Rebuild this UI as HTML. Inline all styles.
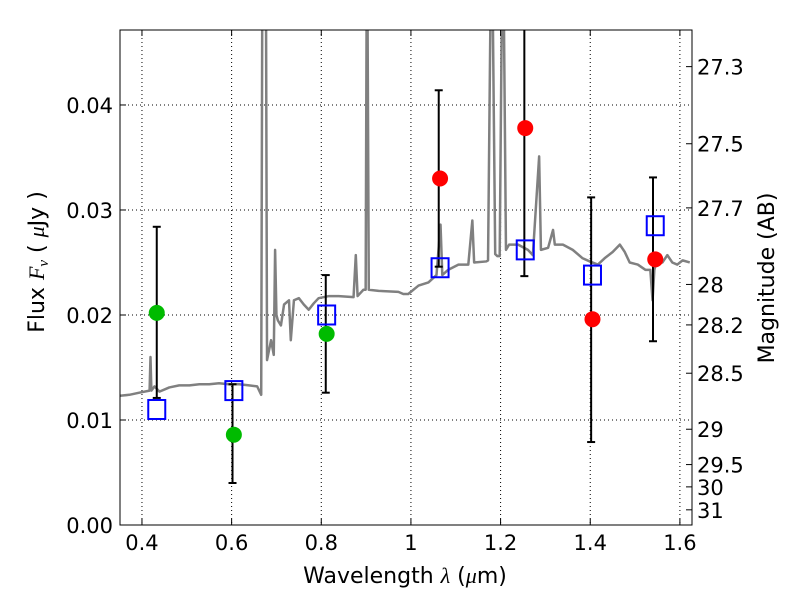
<!DOCTYPE html>
<html><head><meta charset="utf-8">
<style>
html,body{margin:0;padding:0;background:#fff;}
svg{display:block;font-family:"DejaVu Sans","Liberation Sans",sans-serif;}
</style></head>
<body>
<svg id="chart" width="800" height="600" viewBox="0 0 800 600" xmlns="http://www.w3.org/2000/svg">
<defs><clipPath id="plotclip"><rect x="120" y="30" width="572" height="495"/></clipPath></defs>
<rect x="0" y="0" width="800" height="600" fill="#fff"/>
<g id="grid"></g>
<g id="spec" clip-path="url(#plotclip)"></g>
<g id="marks" clip-path="url(#plotclip)"></g>
<g id="axes"></g>
<text x="405" y="583" font-size="22" text-anchor="middle">Wavelength  <tspan font-family="Liberation Serif" font-style="italic">λ</tspan> (<tspan font-family="Liberation Serif" font-style="italic">μ</tspan>m)</text>
<text transform="translate(44,262) rotate(-90)" font-size="22" text-anchor="middle">Flux  <tspan font-family="Liberation Serif" font-style="italic">F</tspan><tspan font-family="Liberation Serif" font-style="italic" font-size="15" dy="4">ν</tspan><tspan dy="-4">  ( </tspan><tspan font-family="Liberation Serif" font-style="italic">μ</tspan>Jy )</text>
<text transform="translate(774,278) rotate(-90)" font-size="22" text-anchor="middle">Magnitude (AB)</text>
</svg>
<script>
const specWave=[0.350,0.372,0.394,0.417,0.419,0.421,0.428,0.439,0.461,0.483,0.506,0.528,0.550,0.572,0.594,0.617,0.639,0.657,0.666,0.669,0.672,0.676,0.679,0.688,0.694,0.697,0.700,0.703,0.710,0.717,0.728,0.732,0.739,0.750,0.761,0.772,0.783,0.794,0.817,0.839,0.872,0.877,0.881,0.894,0.899,0.902,0.906,0.928,0.972,0.983,0.994,1.017,1.039,1.057,1.066,1.070,1.083,1.106,1.128,1.137,1.141,1.168,1.172,1.180,1.188,1.193,1.198,1.205,1.212,1.219,1.239,1.261,1.272,1.286,1.290,1.306,1.317,1.321,1.339,1.361,1.383,1.399,1.417,1.432,1.450,1.466,1.477,1.488,1.506,1.523,1.534,1.539,1.543,1.550,1.561,1.572,1.583,1.594,1.606,1.622];
const specFlux=[0.0123,0.0124,0.0126,0.0128,0.0160,0.0128,0.0132,0.0127,0.0131,0.0133,0.0133,0.0134,0.0134,0.0135,0.0134,0.0134,0.0133,0.0132,0.0124,0.0600,0.0600,0.0600,0.0157,0.0176,0.0162,0.0262,0.0200,0.0195,0.0190,0.0210,0.0214,0.0176,0.0214,0.0216,0.0210,0.0205,0.0211,0.0216,0.0218,0.0218,0.0217,0.0257,0.0218,0.0224,0.0224,0.0600,0.0224,0.0223,0.0222,0.0220,0.0220,0.0228,0.0231,0.0238,0.0286,0.0238,0.0243,0.0248,0.0248,0.0290,0.0250,0.0251,0.0252,0.0600,0.0258,0.0256,0.0256,0.0600,0.0262,0.0267,0.0267,0.0262,0.0257,0.0351,0.0262,0.0264,0.0281,0.0267,0.0267,0.0262,0.0254,0.0251,0.0248,0.0254,0.0260,0.0267,0.0260,0.0250,0.0248,0.0243,0.0243,0.0214,0.0243,0.0254,0.0250,0.0257,0.0250,0.0248,0.0252,0.0250];
const greenWave=[0.433,0.605,0.812];
const greenFlux=[0.0202,0.0086,0.0182];
const redWave=[1.065,1.255,1.405,1.545];
const redFlux=[0.0330,0.0378,0.0196,0.0253];
const boxWave=[0.433,0.605,0.812,1.065,1.255,1.405,1.545];
const boxFlux=[0.0110,0.0128,0.0200,0.0245,0.0262,0.0238,0.0285];
const errWave=[0.433,0.602,0.810,1.062,1.253,1.402,1.540];
const errLow=[0.0121,0.0040,0.0126,0.0246,0.0237,0.0079,0.0175];
const errHigh=[0.0284,0.0134,0.0238,0.0414,0.0600,0.0312,0.0331];
const xTicks=[0.4,0.6,0.8,1.0,1.2,1.4,1.6];
const xTickLabels=["0.4","0.6","0.8","1","1.2","1.4","1.6"];
const yTicks=[0,0.01,0.02,0.03,0.04];
const yTickLabels=["0.00","0.01","0.02","0.03","0.04"];
const magTicks=[27.3,27.5,27.7,28,28.2,28.5,29,29.5,30,31];
const magTickLabels=["27.3","27.5","27.7","28","28.2","28.5","29","29.5","30","31"];

const L=120,R=692,T=30,B=525,X0=0.351,X1=1.627,Y0=0,Y1=0.04714;
const sx=v=>L+(v-X0)/(X1-X0)*(R-L);
const sy=v=>B-(v-Y0)/(Y1-Y0)*(B-T);
const magY=m=>sy(Math.pow(10,(23.9-m)/2.5));
const NS="http://www.w3.org/2000/svg";
function mk(tag,parent,attrs){const e=document.createElementNS(NS,tag);for(const k in attrs)e.setAttribute(k,attrs[k]);parent.appendChild(e);return e;}
const grid=document.getElementById('grid'),spec=document.getElementById('spec'),marks=document.getElementById('marks'),axes=document.getElementById('axes');

xTicks.forEach((t,i)=>{
  const g=mk('line',grid,{x1:sx(t),x2:sx(t),y1:T,y2:B,stroke:'#000','stroke-width':1,'stroke-dasharray':'1,3'});
  
  
  const a=mk('line',axes,{x1:sx(t),x2:sx(t),y1:B,y2:B-6,stroke:'#000','stroke-width':1});
  
  
  const a2=mk('line',axes,{x1:sx(t),x2:sx(t),y1:T,y2:T+6,stroke:'#000','stroke-width':1});
  
  
  const tx=mk('text',axes,{x:sx(t),y:B+25,'font-size':21,'text-anchor':'middle'});
  tx.textContent=xTickLabels[i];
  
  
});
yTicks.forEach((t,i)=>{
  const g=mk('line',grid,{x1:L,x2:R,y1:sy(t),y2:sy(t),stroke:'#000','stroke-width':1,'stroke-dasharray':'1,3'});
  
  
  const a=mk('line',axes,{x1:L,x2:L+6,y1:sy(t),y2:sy(t),stroke:'#000','stroke-width':1});
  
  
  const tx=mk('text',axes,{x:L-7,y:sy(t)+8,'font-size':21,'text-anchor':'end'});
  tx.textContent=yTickLabels[i];
  
  
});
magTicks.forEach((m,i)=>{
  const a=mk('line',axes,{x1:R,x2:R-6,y1:magY(m),y2:magY(m),stroke:'#000','stroke-width':1});
  
  
  const tx=mk('text',axes,{x:R+5,y:magY(m)+8,'font-size':21,'text-anchor':'start'});
  tx.textContent=magTickLabels[i];
  
  
});
const frame=mk('rect',axes,{x:L,y:T,width:R-L,height:B-T,fill:'none',stroke:'#000','stroke-width':1});



const pl=mk('polyline',spec,{points:specWave.map((w,i)=>sx(w)+','+sy(specFlux[i])).join(' '),fill:'none',stroke:'#808080','stroke-width':2.5,'stroke-linejoin':'round'});



errWave.forEach((w,i)=>{
  const x=sx(w),y1=sy(errLow[i]),y2=sy(errHigh[i]);
  const l=mk('line',marks,{x1:x,x2:x,y1:y1,y2:y2,stroke:'#000','stroke-width':2});
  
  
  [y1,y2].forEach(y=>{
    const c=mk('line',marks,{x1:x-4,x2:x+4,y1:y,y2:y,stroke:'#000','stroke-width':2});
    
    
  });
});
boxWave.forEach((w,i)=>{
  const r=mk('rect',marks,{x:sx(w)-8.5,y:sy(boxFlux[i])-9.5,width:17,height:19,fill:'none',stroke:'#0000ff','stroke-width':2});
  
  
});
greenWave.forEach((w,i)=>{
  const c=mk('circle',marks,{cx:sx(w),cy:sy(greenFlux[i]),r:8,fill:'#00bb00'});
  
  
});
redWave.forEach((w,i)=>{
  const c=mk('circle',marks,{cx:sx(w),cy:sy(redFlux[i]),r:8,fill:'#ff0000'});
  
  
});
</script>
</body></html>
